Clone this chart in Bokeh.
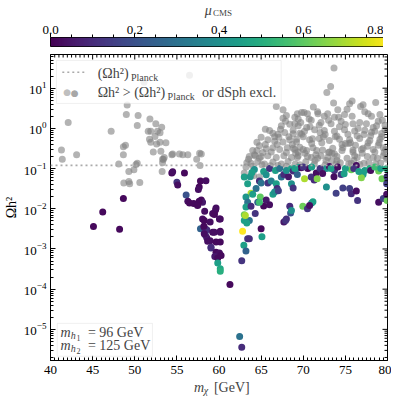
import numpy as np
from bokeh.plotting import figure
from bokeh.models import (LinearColorMapper, FixedTicker, LinearAxis, BoxAnnotation,
                          Label, Arrow, Span, NumeralTickFormatter, ColumnDataSource)
from bokeh.layouts import column
from bokeh.palettes import Viridis256
from bokeh.embed import file_html
from bokeh.resources import INLINE

# ---------------- data ----------------
# points excluded (Omega h^2 above Planck or dSph excluded): gray
gray_mx = [49.1, 49.0, 50.4, 42.1, 51.8, 52.5, 53.2, 50.3, 47.2, 51.6, 51.9, 52.7, 53.0, 52.4, 51.75,
           51.9, 52.6, 53.0, 53.7, 48.9, 48.65, 41.3, 52.2, 53.1, 48.65, 43.1, 54.5, 53.5, 53.3, 53.3,
           41.4, 48.1, 50.3, 50.15, 49.9, 49.3, 53.25, 48.7, 49.3, 49.4, 50.6, 51.1, 56.5, 54.4, 55.7,
           56.3, 57.7, 57.35, 53.4, 57.75, 55.3, 57.9,
           64.3, 64.1, 64.8, 64.8, 73.65, 73.25, 72.8, 73.6, 78.6, 75.8, 75.5, 76.8, 77.1, 75.2, 74.1,
           70.1, 70.5, 71.7, 71.75, 72.5, 72.9, 74.9, 73.7, 77.7, 78.1, 79.1, 79.4,
           69.4, 69.0, 69.7, 70.95, 72.1, 73.3, 74.5, 75.9, 76.7, 77.5, 78.7,
           68.8, 70.15, 71.35, 72.5, 73.7, 74.9, 76.1, 77.3, 78.5, 79.7,
           69.2, 70.75, 71.9, 73.1, 74.3, 75.5, 76.7, 77.9, 79.1,
           68.8, 70.0, 71.15, 72.3, 73.5, 74.7, 75.9, 77.1, 78.3, 79.5,
           69.3, 70.5, 71.7, 72.9, 74.0, 75.2, 76.4, 77.6, 78.8, 79.9,
           69.4, 70.4, 73.1, 73.7, 75.9, 78.3, 79.5, 79.9, 75.7, 76.7, 73.9, 70.95, 72.1,
           68.0, 69.0, 67.4, 68.4, 69.4, 66.4, 67.0, 67.8, 68.8, 69.6, 65.8, 66.6, 67.6, 68.4, 69.2,
           64.8, 65.6, 66.4, 67.2, 68.1, 69.0, 64.2, 65.0, 65.8, 66.8, 67.7, 68.6, 69.4,
           63.8, 64.6, 65.4, 66.4, 67.4, 68.2, 69.05, 63.0, 63.8,
           66.8, 67.6, 67.6, 69.3, 69.8,
           69.8, 71.0, 72.0, 73.0, 74.6, 75.3, 76.2, 77.0, 78.0, 78.9, 79.6, 70.3, 71.6, 72.7, 74.4,
           76.0, 77.8, 79.2, 66.0, 65.2, 63.3, 63.6, 66.9, 68.0, 71.2, 74.3, 76.4, 78.3, 70.8, 72.4,
           75.0, 77.2, 79.0, 67.1, 65.5, 64.5, 71.4, 73.4, 75.6, 77.6, 79.3, 70.2, 74.0,
           63.5, 64.0, 64.5, 65.0, 65.5, 66.2, 66.6, 67.3, 67.9, 68.3, 68.7, 69.1, 69.6, 70.0, 70.4,
           70.7, 71.1, 71.5, 71.9, 72.2, 72.6, 73.0, 73.4, 73.8, 74.2, 74.6, 75.0, 75.4, 75.8, 76.1,
           76.5, 76.9, 77.3, 77.7, 78.1, 78.5, 78.9, 79.3, 79.7, 79.8,
           63.2, 64.0, 65.1, 66.1, 67.0, 68.0, 69.6, 71.3, 72.6, 74.0, 75.4, 77.2, 78.6]
gray_omega = [3.8, 2.2, 2.1, 1.4, 1.7, 1.3, 1.07, 1.18, 0.85, 0.85, 0.85, 0.85, 0.78, 0.63, 0.54,
              0.45, 0.41, 0.45, 0.44, 0.38, 0.35, 0.29, 0.26, 0.27, 0.22, 0.22, 0.23, 0.19, 0.17, 0.14,
              0.17, 0.13, 0.135, 0.126, 0.093, 0.085, 0.085, 0.044, 0.048, 0.042, 0.045, 14.0, 21.0, 0.22, 0.22,
              0.22, 0.24, 0.17, 0.17, 0.12, 0.23, 0.23,
              0.21, 0.066, 0.062, 0.18, 32.0, 11.0, 7.8, 4.3, 4.4, 4.8, 4.1, 3.5, 3.9, 3.0, 2.9,
              2.5, 2.3, 2.6, 2.3, 2.0, 2.3, 2.2, 1.9, 2.3, 2.0, 2.2, 1.6,
              1.7, 1.3, 1.4, 1.6, 1.4, 1.3, 1.5, 1.3, 1.4, 1.3, 1.17,
              0.9, 0.85, 0.93, 0.88, 0.85, 0.93, 0.86, 0.9, 0.85, 0.92,
              0.54, 0.52, 0.56, 0.5, 0.54, 0.52, 0.56, 0.5, 0.54,
              0.32, 0.3, 0.33, 0.29, 0.32, 0.33, 0.29, 0.32, 0.3, 0.33,
              0.19, 0.2, 0.18, 0.19, 0.2, 0.18, 0.19, 0.2, 0.18, 0.19,
              0.26, 0.28, 0.26, 0.23, 0.26, 0.19, 0.21, 0.17, 0.135, 0.126, 0.132, 0.19, 0.21,
              2.1, 1.9, 1.17, 1.26, 1.17, 0.76, 0.71, 0.79, 0.74, 0.76, 0.52, 0.48, 0.46, 0.52, 0.46,
              0.37, 0.31, 0.33, 0.3, 0.33, 0.3, 0.22, 0.2, 0.21, 0.19, 0.21, 0.19, 0.21,
              0.135, 0.15, 0.13, 0.145, 0.13, 0.15, 0.13, 0.078, 0.068,
              3.5, 2.9, 1.8, 2.3, 2.5,
              0.71, 0.42, 0.79, 0.25, 0.4, 0.71, 0.38, 0.24, 0.66, 0.38, 0.25, 0.148, 0.28, 0.16, 0.14,
              0.16, 0.14, 0.138, 0.89, 0.25, 0.14, 0.2, 0.4, 0.25, 3.4, 1.1, 0.66, 1.05, 1.1, 0.62,
              0.42, 0.7, 0.44, 0.6, 0.95, 0.28, 0.16, 0.16, 0.44, 0.36, 0.75, 0.24, 0.65,
              0.17, 0.28, 0.45, 0.6, 0.4, 0.26, 0.62, 0.95, 1.5, 0.62, 0.4, 0.24, 0.34, 0.62, 1.05,
              1.7, 0.55, 0.22, 1.2, 0.44, 0.7, 1.6, 0.24, 0.62, 1.9, 0.28, 1.25, 0.42, 2.0, 0.21,
              1.0, 0.3, 2.6, 0.44, 0.8, 0.26, 1.5, 0.62, 1.2, 0.3,
              0.11, 0.115, 0.125, 0.118, 0.12, 0.115, 0.125, 0.13, 0.125, 0.16, 0.13, 0.135, 0.13]

# allowed points, coloured by mu_CMS
col_mx = [45.1, 48.2, 46.2, 48.65, 54.4, 54.5, 55.9, 55.0, 55.1, 57.8, 58.45, 57.65, 57.55, 56.1,
          56.3, 56.5, 57.0, 57.5, 57.9, 58.05, 57.65, 57.45, 58.3, 59.6, 59.25, 59.45, 60.15, 58.05,
          58.25, 58.95, 57.8, 58.25, 58.55, 59.25, 60.15, 58.4, 58.55, 58.95, 59.65, 59.05, 59.65,
          60.05, 59.5, 59.85, 60.25, 59.85, 60.15, 60.15, 60.15, 60.15, 59.45, 58.65, 59.05, 58.25,
          58.2, 59.45, 59.65, 60.05, 61.3, 62.45, 62.7,
          63.0, 63.7, 64.8, 65.0, 63.8, 64.0, 63.4, 64.4, 64.9, 65.8, 66.2, 66.8, 66.9, 67.4, 67.7,
          68.25, 68.0, 68.6, 69.4, 68.4, 68.5, 68.0, 65.3, 65.6, 66.4, 66.6, 67.05, 63.2, 63.4, 63.0,
          63.2, 63.8, 64.3, 63.0, 63.6, 64.6, 66.0, 67.7, 63.13, 63.3, 62.8, 63.4, 63.6, 62.95, 63.2,
          62.7, 65.1, 65.0, 67.9, 64.8,
          68.8, 69.4, 69.75, 69.3, 70.55, 70.15, 70.95, 71.3, 71.55, 71.65, 72.75, 73.1, 73.7, 73.65,
          74.5, 74.85, 75.7, 76.3, 77.1, 77.3, 77.9, 76.9, 78.95, 79.35, 79.95, 79.9, 79.9,
          72.75, 73.9, 74.7, 75.5, 75.7, 76.3, 76.45, 78.95, 79.5, 79.95, 79.9,
          69.95, 70.5, 71.0, 71.15, 70.75, 68.6, 68.6, 68.8,
          64.2, 65.3, 66.0, 66.7, 67.2, 69.0, 70.0, 71.0, 72.0, 72.3, 73.3, 74.1, 75.0, 76.0, 76.6,
          78.0, 78.5, 79.2, 63.9, 65.6]
col_omega = [3.6e-3, 3.1e-3, 8.3e-3, 1.8e-2, 7.8e-2, 8.3e-2, 7.8e-2, 4.6e-2, 3.9e-2, 4.9e-2, 5.0e-2,
             3.5e-2, 3.0e-2, 2.2e-2, 1.55e-2, 1.4e-2, 1.35e-2, 1.26e-2, 1.66e-2, 1.45e-2, 1.55e-2,
             1.2e-2, 8.7e-3, 9.5e-3, 7.6e-3, 7.2e-3, 5.6e-3, 5.6e-3, 5.1e-3, 4.7e-3, 3.2e-3, 3.4e-3,
             3.0e-3, 2.6e-3, 2.75e-3, 2.2e-3, 1.9e-3, 1.6e-3, 1.5e-3, 1.05e-3, 8.3e-4, 7.9e-4, 6.5e-4,
             6.0e-4, 6.9e-4, 4.5e-4, 3.2e-4, 2.8e-4, 1.5e-3, 2.6e-3, 2.6e-3, 1.55e-3, 1.1e-3, 2.4e-3,
             3.7e-3, 7.6e-3, 1.05e-2, 5.6e-3, 1.3e-4, 6.6e-6, 3.6e-6,
             6.2e-2, 6.3e-2, 4.9e-2, 4.4e-2, 2.45e-2, 2.3e-2, 4.2e-2, 3.2e-2, 1.95e-2, 4.4e-2, 4.9e-2,
             4.2e-2, 3.2e-2, 6.2e-2, 7.1e-2, 6.3e-2, 8.9e-2, 0.1, 0.105, 1.15e-2, 7.9e-3, 5.6e-3,
             1.17e-2, 1.66e-2, 2.3e-2, 2.6e-2, 2.8e-2, 1.95e-2, 1.45e-2, 7.1e-3, 1.1e-2, 1.15e-2,
             7.6e-3, 5.1e-3, 5.1e-3, 1.45e-2, 1.26e-2, 4.7e-3, 6.8e-3, 4.4e-3, 2.75e-3, 1.8e-3, 1.8e-3,
             1.23e-3, 8.9e-4, 5.1e-4, 2.0e-3, 3.2e-3, 5.1e-3, 1.45e-2,
             8.7e-2, 0.107, 0.105, 7.1e-2, 0.1, 5.6e-2, 6.2e-2, 5.2e-2, 7.8e-2, 5.6e-2, 0.1, 0.112,
             8.9e-2, 6.3e-2, 7.1e-2, 7.4e-2, 9.3e-2, 0.12, 7.1e-2, 8.9e-2, 0.1, 5.9e-2, 8.7e-2,
             5.6e-2, 6.3e-2, 4.2e-2, 0.1,
             3.5e-2, 2.45e-2, 3.3e-2, 3.2e-2, 2.35e-2, 2.75e-2, 1.6e-2, 1.45e-2, 1.8e-2, 1.6e-2, 2.3e-2,
             1.15e-2, 1.0e-2, 1.4e-2, 1.5e-2, 1.2e-2, 9.1e-3, 4.2e-2, 3.3e-2,
             0.095, 0.085, 0.1, 0.09, 0.1, 0.1, 0.11, 0.11, 0.1, 0.075, 0.1, 0.11, 0.1, 0.1, 0.085,
             0.09, 0.11, 0.1, 0.08, 0.07]
col_mu = [0.02, 0.02, 0.02, 0.02, 0.02, 0.03, 0.02, 0.12, 0.03, 0.02, 0.03, 0.02, 0.03, 0.2,
          0.03, 0.02, 0.02, 0.03, 0.02, 0.05, 0.02, 0.02, 0.03, 0.02, 0.03, 0.02, 0.02, 0.03,
          0.02, 0.03, 0.25, 0.05, 0.1, 0.03, 0.02, 0.15, 0.05, 0.03, 0.02, 0.12, 0.02,
          0.03, 0.05, 0.02, 0.02, 0.45, 0.48, 0.5, 0.02, 0.03, 0.03, 0.03, 0.1, 0.03,
          0.02, 0.02, 0.03, 0.03, 0.02, 0.3, 0.1,
          0.45, 0.42, 0.1, 0.3, 0.7, 0.45, 0.45, 0.3, 0.6, 0.12, 0.35, 0.45, 0.1, 0.3, 0.1,
          0.05, 0.4, 0.45, 0.4, 0.1, 0.2, 0.1, 0.02, 0.05, 0.45, 0.4, 0.15, 0.42, 0.3, 0.62,
          0.45, 0.1, 0.12, 0.45, 0.3, 0.25, 0.03, 0.05, 0.7, 0.45, 0.8, 0.12, 0.1, 0.45, 0.25,
          0.12, 0.45, 0.02, 0.12, 0.55,
          0.1, 0.45, 0.02, 0.25, 0.02, 0.7, 0.12, 0.1, 0.03, 0.65, 0.42, 0.03, 0.12, 0.03,
          0.12, 0.45, 0.62, 0.03, 0.45, 0.45, 0.5, 0.65, 0.62, 0.62, 0.12, 0.15, 0.5,
          0.4, 0.15, 0.15, 0.15, 0.1, 0.03, 0.12, 0.03, 0.15, 0.62, 0.03,
          0.62, 0.12, 0.45, 0.45, 0.03, 0.4, 0.4, 0.12,
          0.4, 0.45, 0.12, 0.45, 0.3, 0.45, 0.12, 0.45, 0.12, 0.03, 0.45, 0.03, 0.45, 0.12, 0.45,
          0.03, 0.55, 0.45, 0.45, 0.4]

omega_planck = 0.12
mu_ticks = [0.0, 0.2, 0.4, 0.6, 0.8]
x_ticks = [40, 45, 50, 55, 60, 65, 70, 75, 80]
y_ticks = [1e-5, 1e-4, 1e-3, 1e-2, 1e-1, 1e0, 1e1]

X_MIN, X_MAX = 40, 80
Y_MIN, Y_MAX = 1.68e-6, 68.9

FONT = "Liberation Serif"
LEFT = 42
RIGHT = 4
FRAME_W = 337

mapper = LinearColorMapper(palette=Viridis256, low=0.0, high=0.8)


def blank(fig):
    fig.grid.visible = False
    fig.outline_line_color = None


# ---------------- colour bar title strip ----------------
tf = figure(frame_width=FRAME_W, frame_height=18, x_range=(0, 0.8), y_range=(0, 18),
            output_backend="svg", toolbar_location=None, x_axis_location=None,
            y_axis_location=None, min_border=0, min_border_left=LEFT, min_border_right=RIGHT)
blank(tf)
tf.add_layout(Label(x=0.366, y=8.3, text="μ", text_font=FONT, text_font_size="14px",
                    text_font_style="italic", text_baseline="middle", text_align="left"))
tf.add_layout(Label(x=0.386, y=6.0, text="CMS", text_font=FONT, text_font_size="9px",
                    text_baseline="middle", text_align="left"))

# ---------------- colour bar figure ----------------
cb = figure(frame_width=FRAME_W, frame_height=9, x_range=(0, 0.8), y_range=(0, 1),
            output_backend="svg", toolbar_location=None, x_axis_location=None,
            y_axis_location=None, min_border=0, min_border_left=LEFT, min_border_right=RIGHT,
            min_border_top=19, min_border_bottom=4)
cb.grid.visible = False
cb.outline_line_color = "black"
cb.outline_line_width = 1
cb.image(image=[np.linspace(0, 0.8, 256).reshape(1, -1)], x=0, y=0, dw=0.8, dh=1,
         color_mapper=mapper)
cb_axis = LinearAxis(ticker=FixedTicker(ticks=mu_ticks,
                                        minor_ticks=[0.05, 0.1, 0.15, 0.25, 0.3, 0.35, 0.45, 0.5,
                                                     0.55, 0.65, 0.7, 0.75]),
                     formatter=NumeralTickFormatter(format="0.0"))
cb_axis.axis_line_color = None
cb_axis.major_tick_out = 4
cb_axis.major_tick_in = 0
cb_axis.minor_tick_out = 3
cb_axis.minor_tick_in = 0
cb_axis.major_label_standoff = 0
cb_axis.major_label_text_font = FONT
cb_axis.major_label_text_font_size = "13px"
cb_axis.major_label_text_color = "black"
cb.add_layout(cb_axis, "above")

# ---------------- main figure ----------------
p = figure(frame_width=FRAME_W, frame_height=306, x_range=(X_MIN, X_MAX), y_range=(Y_MIN, Y_MAX),
           y_axis_type="log", output_backend="svg", toolbar_location=None,
           min_border_left=LEFT, min_border_right=RIGHT, min_border_top=4, min_border_bottom=20)
p.grid.visible = False
p.outline_line_color = "black"
p.outline_line_width = 1

gsrc = ColumnDataSource(dict(x=gray_mx, y=gray_omega))
p.scatter("x", "y", source=gsrc, size=7, fill_color="gray", fill_alpha=0.6, line_color=None)

p.add_layout(Span(location=omega_planck, dimension="width", line_color="#aaaaaa",
                  line_width=1.6, line_dash="2 3"))

csrc = ColumnDataSource(dict(x=col_mx, y=col_omega, mu=col_mu))
p.scatter("x", "y", source=csrc, size=7, fill_color={"field": "mu", "transform": mapper},
          line_color=None)

minor_x = [v / 2 for v in range(80, 161) if v % 10 != 0]
minor_y = [m * 10.0 ** e for e in range(-6, 2) for m in range(2, 10)
           if Y_MIN < m * 10.0 ** e < Y_MAX]


def style(ax):
    ax.major_tick_in = 5
    ax.major_tick_out = 0
    ax.minor_tick_in = 3
    ax.minor_tick_out = 0
    ax.axis_line_color = "black"
    ax.major_tick_line_color = "black"
    ax.minor_tick_line_color = "black"
    ax.major_label_text_font = FONT
    ax.major_label_text_font_size = "13px"
    ax.major_label_text_color = "black"
    ax.axis_label_text_font = FONT
    ax.axis_label_text_font_size = "14px"
    ax.axis_label_text_font_style = "normal"
    ax.axis_label_text_color = "black"


p.xaxis.ticker = FixedTicker(ticks=x_ticks, minor_ticks=minor_x)
p.yaxis.ticker = FixedTicker(ticks=y_ticks, minor_ticks=minor_y)
style(p.xaxis[0])
style(p.yaxis[0])
p.xaxis.major_label_standoff = 5
p.yaxis.major_label_standoff = 4
p.yaxis.axis_label = "Ωh²"
p.yaxis.axis_label_standoff = 2
p.xaxis.axis_label = None

# mirrored inward ticks on the top and right edges of the frame
p.ray(x=x_ticks, y=[Y_MAX] * len(x_ticks), length=5, angle=-np.pi / 2, length_units="screen",
      line_color="black", line_width=1)
p.ray(x=minor_x, y=[Y_MAX] * len(minor_x), length=3, angle=-np.pi / 2, length_units="screen",
      line_color="black", line_width=1)
p.ray(x=[X_MAX] * len(y_ticks), y=y_ticks, length=5, angle=np.pi, length_units="screen",
      line_color="black", line_width=1)
p.ray(x=[X_MAX] * len(minor_y), y=minor_y, length=3, angle=np.pi, length_units="screen",
      line_color="black", line_width=1)

# legend box
p.add_layout(BoxAnnotation(left=40.71, right=67.38, bottom=4.17, top=49.0, fill_color="white",
                           fill_alpha=0.8, line_color="#cccccc", line_width=1))
p.add_layout(Arrow(x_start=41.4, y_start=25.0, x_end=44.3, y_end=25.0, end=None,
                   line_color="#aaaaaa", line_width=1.6, line_dash="2 3"))
p.add_layout(Label(x=41.98, y=7.9, text="●", text_font="DejaVu Sans", text_font_size="9px",
                   text_color="gray", text_alpha=0.5, text_align="center", text_baseline="middle"))
p.add_layout(Label(x=42.86, y=7.6, text="●", text_font="DejaVu Sans", text_font_size="9px",
                   text_color="gray", text_alpha=0.7, text_align="center", text_baseline="middle"))
for (xx, yy, tt, fs) in [(45.6, 23.2, "(Ωh²)", "14px"), (49.55, 18.5, "Planck", "10px"),
                         (45.6, 7.7, "Ωh² > (Ωh²)", "14px"), (53.9, 6.2, "Planck", "10px"),
                         (57.98, 7.7, "or dSph excl.", "14px")]:
    p.add_layout(Label(x=xx, y=yy, text=tt, text_font=FONT, text_font_size=fs,
                       text_baseline="middle", text_align="left"))

# mass box
p.add_layout(BoxAnnotation(left=40.8, right=52.1, bottom=2.14e-6, top=1.41e-5, fill_color="white",
                           fill_alpha=0.8, line_color="#cccccc", line_width=1))
for (ly, num) in [(8.5e-6, "1"), (4.0e-6, "2")]:
    p.add_layout(Label(x=41.19, y=ly, text="m", text_font=FONT, text_font_size="14px",
                       text_font_style="italic", text_baseline="middle", text_align="left"))
    p.add_layout(Label(x=42.4, y=ly * 10 ** -0.08, text="h", text_font=FONT, text_font_size="10px",
                       text_font_style="italic", text_baseline="middle", text_align="left"))
    p.add_layout(Label(x=43.1, y=ly * 10 ** -0.14, text=num, text_font=FONT, text_font_size="8px",
                       text_baseline="middle", text_align="left"))
p.add_layout(Label(x=44.44, y=8.5e-6, text="= 96 GeV", text_font=FONT, text_font_size="14px",
                   text_baseline="middle", text_align="left"))
p.add_layout(Label(x=44.44, y=4.0e-6, text="= 125 GeV", text_font=FONT, text_font_size="14px",
                   text_baseline="middle", text_align="left"))

# ---------------- x-axis title strip ----------------
xf = figure(frame_width=FRAME_W, frame_height=19, x_range=(X_MIN, X_MAX), y_range=(0, 19),
            output_backend="svg", toolbar_location=None, x_axis_location=None,
            y_axis_location=None, min_border=0, min_border_left=LEFT, min_border_right=RIGHT)
blank(xf)
xf.add_layout(Label(x=57.02, y=12.5, text="m", text_font=FONT, text_font_size="14px",
                    text_font_style="italic", text_baseline="middle", text_align="left"))
xf.add_layout(Label(x=58.2, y=9.5, text="χ", text_font=FONT, text_font_size="10px",
                    text_font_style="italic", text_baseline="middle", text_align="left"))
xf.add_layout(Label(x=59.4, y=12.5, text="[GeV]", text_font=FONT, text_font_size="14px",
                    text_baseline="middle", text_align="left"))

layout = column(tf, cb, p, xf, spacing=0)
open("out.html", "w").write(file_html(layout, INLINE))
